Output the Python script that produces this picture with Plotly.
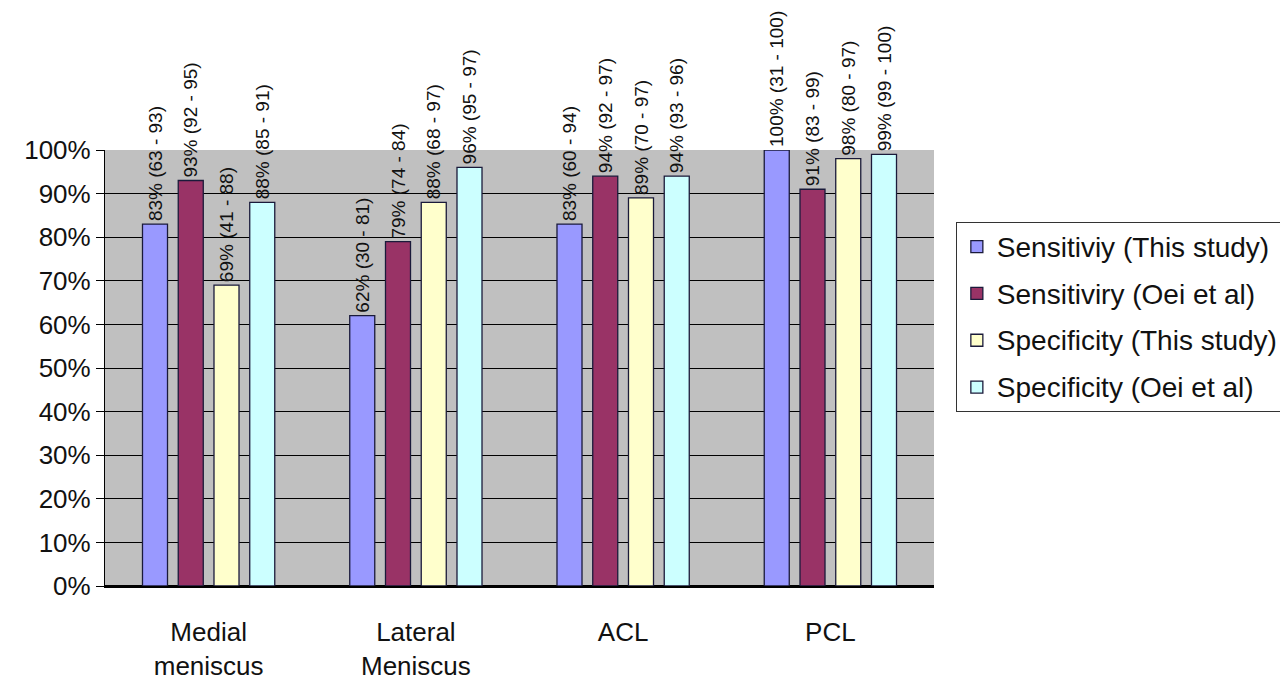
import plotly.graph_objects as go

categories = ["Medial<br>meniscus", "Lateral<br>Meniscus", "ACL", "PCL"]
series_names = ["Sensitiviy (This study)", "Sensitiviry (Oei et al)",
                "Specificity (This study)", "Specificity (Oei et al)"]

sens_this = [83, 62, 83, 100]
sens_this_lo = [63, 30, 60, 31]
sens_this_hi = [93, 81, 94, 100]

sens_oei = [93, 79, 94, 91]
sens_oei_lo = [92, 74, 92, 83]
sens_oei_hi = [95, 84, 97, 99]

spec_this = [69, 88, 89, 98]
spec_this_lo = [41, 68, 70, 80]
spec_this_hi = [88, 97, 97, 97]

spec_oei = [88, 96, 94, 99]
spec_oei_lo = [85, 95, 93, 99]
spec_oei_hi = [91, 97, 96, 100]

colors = ["#9999FF", "#993366", "#FFFFCC", "#CCFFFF"]

data = [
    (sens_this, sens_this_lo, sens_this_hi),
    (sens_oei, sens_oei_lo, sens_oei_hi),
    (spec_this, spec_this_lo, spec_this_hi),
    (spec_oei, spec_oei_lo, spec_oei_hi),
]

FONT = "Liberation Sans, Arial"

fig = go.Figure()
for i, (vals, lo, hi) in enumerate(data):
    labels = [f"{v}% ({a} - {b})" for v, a, b in zip(vals, lo, hi)]
    fig.add_trace(go.Bar(
        x=categories, y=vals,
        name=f"<span style='font-size:28px'>{series_names[i]}</span>",
        marker=dict(color=colors[i], line=dict(color="#1a1a3a", width=1.3)),
        text=labels, textposition="outside", textangle=-90,
        textfont=dict(family=FONT, size=19, color="#111"),
        constraintext="none", cliponaxis=False,
        legendgroup=f"g{i}",
    ))

fig.update_layout(
    width=1288, height=681,
    margin=dict(l=97, r=358, t=142, b=103),
    paper_bgcolor="white", plot_bgcolor="#C0C0C0",
    barmode="group", bargap=0.31, bargroupgap=0.3,
    font=dict(family=FONT, size=26, color="#111"),
    showlegend=True,
    legend=dict(
        x=1.026, y=0.835, xanchor="left", yanchor="top",
        bordercolor="#333", borderwidth=1.3, bgcolor="white",
        font=dict(size=26), traceorder="grouped", tracegroupgap=10,
    ),
    xaxis=dict(showline=True, linecolor="black", linewidth=1.5, ticks="",
               tickfont=dict(size=26), ticklabelstandoff=22,
               automargin=False),
    yaxis=dict(range=[0, 100], dtick=10, ticksuffix="%", showgrid=True,
               gridcolor="black", gridwidth=1.2, showline=True,
               linecolor="black", linewidth=1.2, ticks="outside", ticklen=8,
               tickcolor="black", zeroline=True, zerolinecolor="black",
               tickfont=dict(size=26), automargin=False),
)

fig.write_html("out.html")
